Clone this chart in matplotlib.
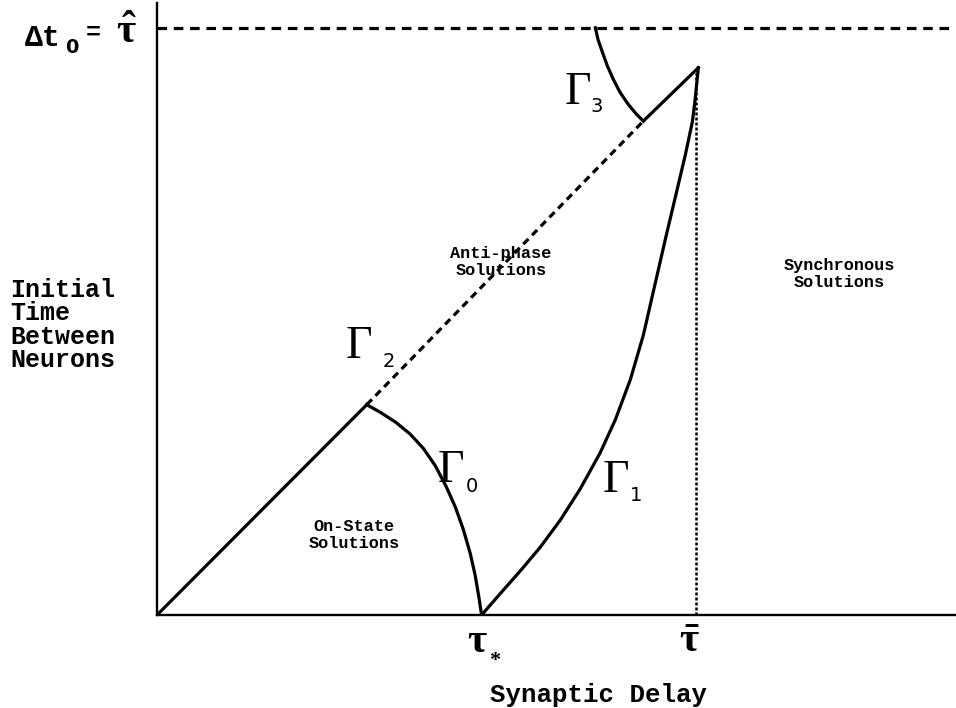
import matplotlib
matplotlib.use("Agg")
import matplotlib.pyplot as plt

plt.rcParams["mathtext.fontset"] = "custom"
plt.rcParams["mathtext.rm"] = "Liberation Serif:bold"

W, H = 956, 708

# Delay axis scaled so that tau_bar = 1; vertical axis uses the same unit.
TAU_STAR = 0.602
TAU_BAR = 1.0
TAU_HAT = 1.089
X_MAX = 1.48
Y_MAX = 1.135

# diagonal boundary Delta t0 = tau (solid / dashed / solid)
diag_low_x = [0.0, 0.389]
diag_low_y = [0.0, 0.390]
diag_mid_x = [0.389, 0.902]
diag_mid_y = [0.390, 0.916]
diag_high_x = [0.902, 1.004]
diag_high_y = [0.916, 1.015]

# Gamma_0: from the corner down to tau_*
g0_x = [0.389, 0.414, 0.442, 0.469, 0.494, 0.516, 0.536, 0.553, 0.568, 0.581, 0.590, 0.597, 0.602]
g0_y = [0.390, 0.376, 0.358, 0.336, 0.309, 0.277, 0.239, 0.201, 0.159, 0.114, 0.074, 0.033, 0.0]

# Gamma_1: from tau_* up to tau_bar
g1_x = [0.602, 0.636, 0.674, 0.711, 0.748, 0.785, 0.822, 0.850, 0.878, 0.902, 0.924, 0.944,
        0.963, 0.980, 0.993, 0.998, 1.004]
g1_y = [0.0, 0.039, 0.082, 0.126, 0.176, 0.234, 0.301, 0.362, 0.437, 0.519, 0.615, 0.702,
        0.782, 0.854, 0.915, 0.956, 1.015]

# Gamma_3: from the top line down to the diagonal
g3_x = [0.813, 0.818, 0.826, 0.835, 0.846, 0.859, 0.874, 0.889, 0.902]
g3_y = [1.089, 1.067, 1.044, 1.019, 0.994, 0.969, 0.947, 0.929, 0.916]

MONO = "Liberation Mono"
SERIF = "Liberation Serif"

fig = plt.figure(figsize=(W / 100, H / 100), dpi=100)
ax = fig.add_axes([157 / W, (H - 615) / H, (955 - 157) / W, (615 - 3) / H])
ax.set_xlim(0, X_MAX)
ax.set_ylim(0, Y_MAX)
ax.set_xticks([])
ax.set_yticks([])
for side in ("top", "right"):
    ax.spines[side].set_visible(False)
for side in ("left", "bottom"):
    ax.spines[side].set_linewidth(1.7)

lw = 2.3
ax.plot(diag_low_x, diag_low_y, color="black", lw=lw)
ax.plot(diag_mid_x, diag_mid_y, color="black", lw=lw, dashes=(2.3, 1.6))
ax.plot(diag_high_x, diag_high_y, color="black", lw=lw)
ax.plot(g0_x, g0_y, color="black", lw=lw)
ax.plot(g1_x, g1_y, color="black", lw=lw)
ax.plot(g3_x, g3_y, color="black", lw=lw)

# tau_hat level and tau_bar marker
ax.plot([0, X_MAX], [TAU_HAT, TAU_HAT], color="black", lw=2.3, dashes=(3.0, 2.1))
ax.plot([TAU_BAR, TAU_BAR], [0, 1.005], color="black", lw=1.8, dashes=(1.2, 0.8))


def ftext(px, py, s, **kw):
    fig.text(px / W, 1 - py / H, s, **kw)


# curve labels
for gx, gy, sub, sx, sy in [(346, 358, "2", 383, 367),
                            (438, 482, "0", 466, 492),
                            (603, 492, "1", 630, 501),
                            (565, 104, "3", 590, 112)]:
    ftext(gx, gy, "\u0393", family=SERIF, fontsize=33, va="baseline", ha="left")
    ftext(sx, sy, sub, family="DejaVu Sans", fontsize=14, va="baseline", ha="left")

# region labels
ftext(354, 535, "On-State\nSolutions", family=MONO, weight="bold", fontsize=12.2,
      ha="center", va="center", linespacing=1.15)
ftext(501, 262, "Anti-phase\nSolutions", family=MONO, weight="bold", fontsize=12.2,
      ha="center", va="center", linespacing=1.15)
ftext(839, 274, "Synchronous\nSolutions", family=MONO, weight="bold", fontsize=12.2,
      ha="center", va="center", linespacing=1.15)

# axis titles
ftext(10, 325, "Initial\nTime\nBetween\nNeurons", family=MONO, weight="bold",
      fontsize=18, ha="left", va="center", linespacing=0.95)
ftext(598, 695, "Synaptic Delay", family=MONO, weight="bold", fontsize=18.5,
      ha="center", va="center")

# tick symbols
ftext(467, 652, r"$\mathrm{\tau}$", fontsize=30, ha="left", va="baseline")
ftext(489, 664, r"$*$", fontsize=16, ha="left", va="baseline")
ftext(689, 652, r"$\mathrm{\bar{\tau}}$", fontsize=30, ha="center", va="baseline")

ftext(25, 46, "\u0394t", family=MONO, weight="bold", fontsize=21.5, ha="left", va="baseline")
ftext(65, 53, "0", family="DejaVu Sans", weight="bold", fontsize=14, ha="left", va="baseline")
ftext(86, 40, "=", family=MONO, weight="bold", fontsize=18, ha="left", va="baseline")
ftext(126, 43, r"$\mathrm{\hat{\tau}}$", fontsize=30, ha="center", va="baseline")

fig.savefig("out.png", dpi=100)
